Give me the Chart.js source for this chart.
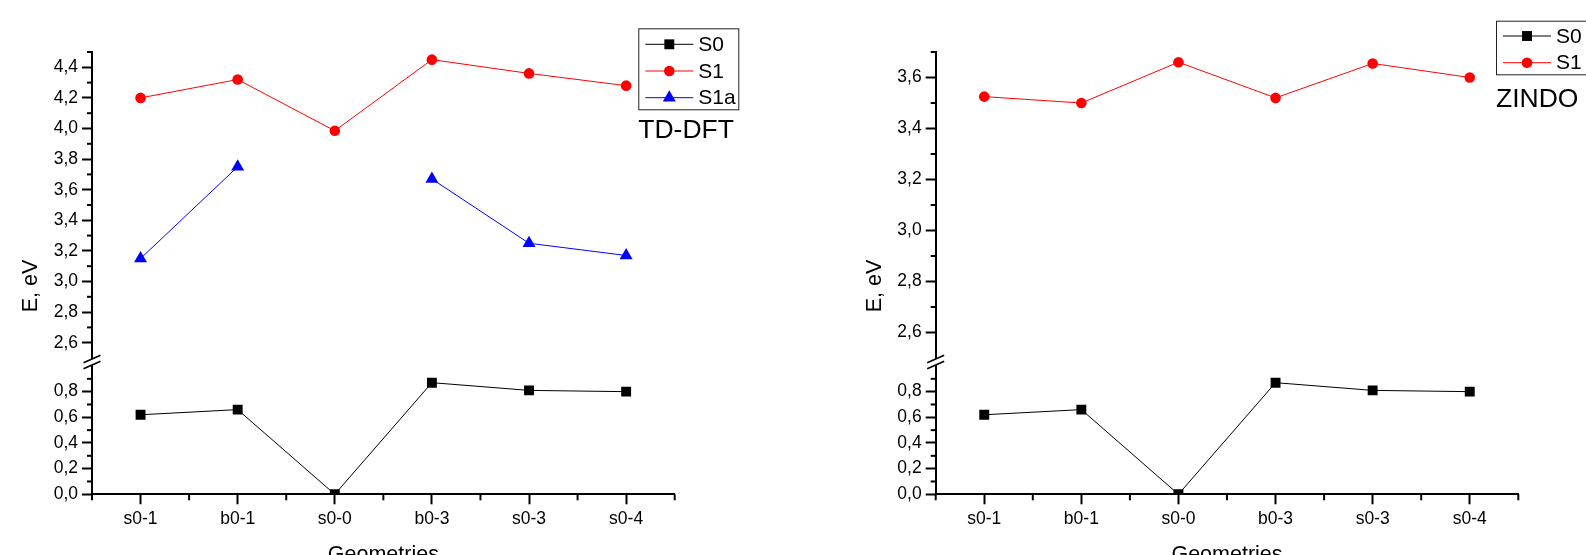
<!DOCTYPE html>
<html>
<head>
<meta charset="utf-8">
<script src="https://cdn.jsdelivr.net/npm/chart.js@4.4.1/dist/chart.umd.min.js"></script>
<style>
  html, body { margin: 0; padding: 0; background: #fff; overflow: hidden; width: 1586px; height: 555px; }
  canvas { position: absolute; top: 0; }
  #tddft { left: 0; }
  #zindo { left: 800px; }
</style>
</head>
<body>
<canvas id="tddft" width="790" height="580"></canvas>
<canvas id="zindo" width="860" height="580"></canvas>
<script>
// Geometries along the x axis
const geometries = ['s0-1', 'b0-1', 's0-0', 'b0-3', 's0-3', 's0-4'];

// TD-DFT energies, eV
const tddftS0  = [0.62, 0.66, 0.00, 0.87, 0.81, 0.80];
const tddftS1  = [4.20, 4.32, 3.985, 4.45, 4.36, 4.28];
const tddftS1a = [3.15, 3.75, null, 3.67, 3.25, 3.17];

// ZINDO energies, eV
const zindoS0 = [0.62, 0.66, 0.00, 0.87, 0.81, 0.80];
const zindoS1 = [3.525, 3.50, 3.66, 3.52, 3.655, 3.60];

// Labelled y ticks of each axis segment
const lowTicks        = [0.0, 0.2, 0.4, 0.6, 0.8];
const tddftHighTicks  = [2.6, 2.8, 3.0, 3.2, 3.4, 3.6, 3.8, 4.0, 4.2, 4.4];
const zindoHighTicks  = [2.6, 2.8, 3.0, 3.2, 3.4, 3.6];

const FONT = "'Liberation Sans', Arial, sans-serif";
const INK = '#000';

function fmt(v) { return v.toFixed(1).replace('.', ','); }

function markerPath(ctx, style, r, x, y) {
  ctx.beginPath();
  if (style === 'circle') {
    ctx.arc(x, y, r, 0, Math.PI * 2);
  } else if (style === 'rect') {
    const s = r * Math.SQRT1_2;
    ctx.rect(x - s, y - s, 2 * s, 2 * s);
  } else if (style === 'triangle') {
    ctx.moveTo(x, y - r);
    ctx.lineTo(x + r * 0.866, y + r / 2);
    ctx.lineTo(x - r * 0.866, y + r / 2);
    ctx.closePath();
  }
}

// Axis decorations: minor ticks, break marks, y title, legend box and method label
function decorations(panel) {
  return {
    id: 'energyDecor',
    afterDraw(chart) {
      const ctx = chart.ctx;
      const { x, yHigh, yLow } = chart.scales;
      ctx.save();
      ctx.strokeStyle = INK;
      ctx.lineWidth = 2;

      // minor ticks between categories
      for (let i = 0; i <= geometries.length; i++) {
        const px = x.getPixelForValue(i - 0.5);
        ctx.beginPath();
        ctx.moveTo(px, x.top);
        ctx.lineTo(px, x.top + 6);
        ctx.stroke();
      }

      // minor ticks every 0.1 eV
      for (const axis of [yHigh, yLow]) {
        const k0 = Math.ceil(axis.min * 10 - 1e-6);
        const k1 = Math.floor(axis.max * 10 + 1e-6);
        for (let k = k0; k <= k1; k++) {
          if (k % 2 === 0) continue;
          if (axis === yHigh && k === k0 && Math.abs(k / 10 - axis.min) < 1e-6) continue;
          const py = axis.getPixelForValue(k / 10);
          ctx.beginPath();
          ctx.moveTo(axis.right - 5, py);
          ctx.lineTo(axis.right, py);
          ctx.stroke();
        }
      }

      // axis break marks
      const bx = yHigh.right;
      const mid = (yHigh.bottom + yLow.top) / 2;
      ctx.lineWidth = 1.6;
      for (const c of [mid - 3, mid + 3]) {
        ctx.beginPath();
        ctx.moveTo(bx - 8.5, c + 3.7);
        ctx.lineTo(bx + 8.5, c - 3.7);
        ctx.stroke();
      }

      // y axis title
      ctx.fillStyle = INK;
      ctx.save();
      ctx.translate(panel.yTitleX, 286);
      ctx.rotate(-Math.PI / 2);
      ctx.font = `21.5px ${FONT}`;
      ctx.textAlign = 'center';
      ctx.textBaseline = 'middle';
      ctx.fillText('E, eV', 0, 0);
      ctx.restore();

      // legend
      const lg = panel.legend;
      ctx.lineWidth = 1;
      ctx.strokeStyle = '#222';
      ctx.strokeRect(lg.left + 0.5, lg.top + 0.5, 100, lg.height);
      ctx.font = `21px ${FONT}`;
      ctx.textAlign = 'left';
      ctx.textBaseline = 'middle';
      panel.series.forEach((s, i) => {
        const ry = lg.firstRow + i * 26.7;
        ctx.strokeStyle = s.color;
        ctx.lineWidth = 1;
        ctx.beginPath();
        ctx.moveTo(lg.left + 7, ry);
        ctx.lineTo(lg.left + 55, ry);
        ctx.stroke();
        ctx.fillStyle = s.color;
        markerPath(ctx, s.marker, s.radius, lg.left + 31, ry);
        ctx.fill();
        ctx.fillStyle = INK;
        ctx.fillText(s.label, lg.left + 60, ry + 1);
      });

      // method label
      ctx.font = `26.5px ${FONT}`;
      ctx.textBaseline = 'alphabetic';
      ctx.fillText(panel.method, lg.left, panel.methodBaseline);
      ctx.restore();
    }
  };
}

function yAxis(min, max, ticks, weight, stackWeight, width) {
  return {
    type: 'linear', position: 'left', stack: 'energy', stackWeight, weight, min, max,
    afterBuildTicks: axis => { axis.ticks = ticks.map(v => ({ value: v })); },
    afterFit: axis => { axis.width = width; },
    border: { display: true, color: INK, width: 2 },
    grid: { display: true, drawOnChartArea: false, drawTicks: true, tickLength: 10, tickWidth: 2, tickColor: INK },
    ticks: { color: INK, padding: 4, autoSkip: false, font: { family: FONT, size: 17.5 }, callback: v => fmt(v) }
  };
}

function energyPanel(id, panel) {
  const canvas = document.getElementById(id);
  return new Chart(canvas, {
    type: 'line',
    data: {
      labels: geometries,
      datasets: panel.series.map(s => ({
        label: s.label,
        data: s.data,
        yAxisID: s.axis,
        borderColor: s.color,
        backgroundColor: s.color,
        borderWidth: 1,
        pointStyle: s.marker,
        pointRadius: s.radius,
        pointBorderWidth: 0,
        pointBackgroundColor: s.color,
        spanGaps: false,
        clip: s.axis === 'yLow' ? 0 : false
      }))
    },
    options: {
      responsive: false,
      animation: false,
      events: [],
      layout: { padding: { top: 52, right: panel.padRight, left: 0, bottom: 0 } },
      plugins: { legend: { display: false }, tooltip: { enabled: false } },
      scales: {
        x: {
          type: 'category', offset: true,
          afterFit: axis => { axis.height = canvas.height - 494.3; },
          border: { display: true, color: INK, width: 2 },
          grid: { display: true, offset: false, drawOnChartArea: false, drawTicks: true, tickLength: 10, tickWidth: 2, tickColor: INK },
          ticks: { color: INK, padding: 4, autoSkip: false, maxRotation: 0, font: { family: FONT, size: 17.5 } },
          title: { display: true, text: 'Geometries', color: INK, font: { family: FONT, size: 21.5 }, padding: { top: 0, bottom: 12.3 } }
        },
        yHigh: yAxis(2.5, panel.highMax, panel.highTicks, 3, 306, panel.axisLeft),
        yGap: {
          type: 'linear', position: 'left', stack: 'energy', stackWeight: 8, weight: 2,
          afterFit: axis => { axis.width = panel.axisLeft; },
          border: { display: false }, grid: { display: false, drawTicks: false }, ticks: { display: false }
        },
        yLow: yAxis(0, 1.0, lowTicks, 1, 128.3, panel.axisLeft)
      }
    },
    plugins: [decorations(panel)]
  });
}

energyPanel('tddft', {
  axisLeft: 92, padRight: 115.3, highMax: 4.5, highTicks: tddftHighTicks, yTitleX: 30.8,
  method: 'TD-DFT', methodBaseline: 138.3,
  legend: { left: 638.3, top: 28.3, height: 81, firstRow: 44.3 },
  series: [
    { label: 'S0',  data: tddftS0,  axis: 'yLow',  color: '#000000', marker: 'rect',     radius: 7 },
    { label: 'S1',  data: tddftS1,  axis: 'yHigh', color: '#ff0000', marker: 'circle',   radius: 5.3 },
    { label: 'S1a', data: tddftS1a, axis: 'yHigh', color: '#0000ff', marker: 'triangle', radius: 7.5 }
  ]
});

energyPanel('zindo', {
  axisLeft: 135.7, padRight: 141.7, highMax: 3.7, highTicks: zindoHighTicks, yTitleX: 74.8,
  method: 'ZINDO', methodBaseline: 106.7,
  legend: { left: 696, top: 20.7, height: 53.6, firstRow: 36 },
  series: [
    { label: 'S0', data: zindoS0, axis: 'yLow',  color: '#000000', marker: 'rect',   radius: 7 },
    { label: 'S1', data: zindoS1, axis: 'yHigh', color: '#ff0000', marker: 'circle', radius: 5.3 }
  ]
});
</script>
</body>
</html>
